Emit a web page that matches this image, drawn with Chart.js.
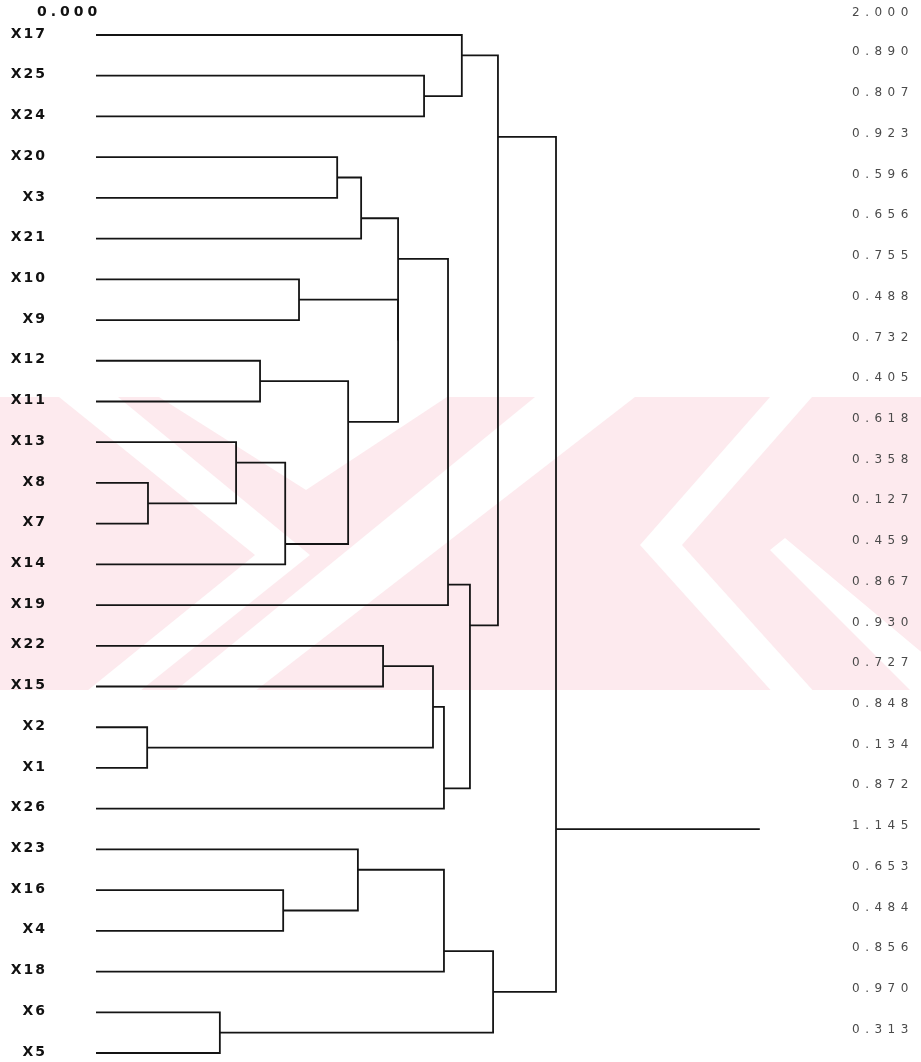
<!DOCTYPE html>
<html>
<head>
<meta charset="utf-8">
<script src="https://cdn.jsdelivr.net/npm/chart.js@4/dist/chart.umd.min.js"></script>
<style>
  html, body { margin: 0; padding: 0; background: #fff; }
  #wrap { position: relative; width: 921px; height: 1062px; }
</style>
</head>
<body>
<div id="wrap"><canvas id="dendro"></canvas></div>
<script>
// Folhas, de cima para baixo
const leafLabels = ['X17', 'X25', 'X24', 'X20', 'X3', 'X21', 'X10', 'X9', 'X12', 'X11', 'X13', 'X8', 'X7',
  'X14', 'X19', 'X22', 'X15', 'X2', 'X1', 'X26', 'X23', 'X16', 'X4', 'X18', 'X6', 'X5'];

// Distancias impressas na coluna da direita (entre folhas vizinhas)
const gapDistances = [0.890, 0.807, 0.923, 0.596, 0.656, 0.755, 0.488, 0.732, 0.405, 0.618, 0.358, 0.127,
  0.459, 0.867, 0.930, 0.727, 0.848, 0.134, 0.872, 1.145, 0.653, 0.484, 0.856, 0.970, 0.313];

// Extremos da escala
const scaleEnds = [0, 2];

// Juncoes: [filho esquerdo, filho direito, altura]; indice >= 26 = no interno
const merges = [
  [11, 12, 0.128], [17, 18, 0.126], [24, 25, 0.305], [10, 26, 0.345], [8, 9, 0.404],
  [21, 22, 0.461], [29, 13, 0.466], [6, 7, 0.500], [3, 4, 0.594], [30, 32, 0.621],
  [34, 5, 0.653], [20, 31, 0.645], [33, 35, 0.744], [36, 38, 0.744], [1, 2, 0.808],
  [0, 40, 0.901], [39, 14, 0.867], [15, 16, 0.707], [43, 27, 0.830], [44, 19, 0.857],
  [42, 45, 0.921], [41, 46, 0.990], [37, 23, 0.857], [48, 28, 0.978], [47, 49, 1.133]
];
const rootTail = 1.635;

// posicao de cada no: altura e linha (y) onde sai o traco horizontal
const nLeaves = leafLabels.length;
const nodeH = [], nodeY = [], nodeLast = [];
for (let i = 0; i < nLeaves; i++) { nodeH[i] = 0; nodeY[i] = i; nodeLast[i] = i; }
merges.forEach(([a, b, h], k) => {
  const id = nLeaves + k;
  nodeH[id] = h;
  nodeY[id] = nodeLast[a] + 0.5;
  nodeLast[id] = nodeLast[b];
});
const rootId = nLeaves + merges.length - 1;

const lineStyle = {
  showLine: true, borderColor: '#141414', borderWidth: 1.8, pointRadius: 0,
  tension: 0, fill: false, borderCapStyle: 'butt', borderJoinStyle: 'miter'
};

const datasets = merges.map(([a, b, h]) => ({
  ...lineStyle,
  data: [
    { x: nodeH[a], y: nodeY[a] },
    { x: h, y: nodeY[a] },
    { x: h, y: nodeY[b] },
    { x: nodeH[b], y: nodeY[b] }
  ]
}));
datasets.push({
  ...lineStyle,
  data: [{ x: nodeH[rootId], y: nodeY[rootId] }, { x: rootTail, y: nodeY[rootId] }]
});

// marca d'agua rosa ao fundo
const watermark = {
  id: 'watermark',
  beforeDraw(chart) {
    const ctx = chart.ctx;
    const poly = pts => {
      ctx.beginPath();
      pts.forEach(([x, y], i) => i ? ctx.lineTo(x, y) : ctx.moveTo(x, y));
      ctx.closePath();
      ctx.fill();
    };
    ctx.save();
    ctx.beginPath();
    ctx.rect(0, 397, 921, 293);
    ctx.clip();
    ctx.fillStyle = '#fdeaee';
    ctx.fillRect(0, 397, 921, 293);
    ctx.fillStyle = '#fff';
    poly([[59, 397], [118, 397], [310, 555], [135, 695], [82, 695], [255, 555]]);
    poly([[159, 397], [447, 397], [306, 490]]);
    poly([[535, 397], [635, 397], [250, 695], [170, 695]]);
    poly([[770, 397], [812, 397], [682, 545], [817, 695], [775, 695], [640, 545]]);
    poly([[770, 550], [785, 538], [925, 655], [925, 705]]);
    ctx.restore();
  }
};

// textos: rotulos das folhas, distancias e extremos da escala
const labels = {
  id: 'labels',
  afterDraw(chart) {
    const { ctx, scales: { y } } = chart;
    ctx.save();
    ctx.textBaseline = 'middle';

    ctx.fillStyle = '#111';
    ctx.font = 'bold 14px "DejaVu Sans"';
    ctx.letterSpacing = '2px';
    ctx.textAlign = 'right';
    leafLabels.forEach((lab, i) => ctx.fillText(lab, 47, y.getPixelForValue(i) - 1));

    ctx.textAlign = 'left';
    ctx.letterSpacing = '4px';
    ctx.fillText(scaleEnds[0].toFixed(3), 37, y.getPixelForValue(-0.5) - 2);

    ctx.fillStyle = '#4a4a4a';
    ctx.font = '12px "DejaVu Sans"';
    ctx.letterSpacing = '5.5px';
    ctx.fillText(scaleEnds[1].toFixed(3), 852, y.getPixelForValue(-0.5) - 2);
    gapDistances.forEach((d, i) => ctx.fillText(d.toFixed(3), 852, y.getPixelForValue(i + 0.5) - 3));
    ctx.restore();
  }
};

new Chart(document.getElementById('dendro'), {
  type: 'scatter',
  data: { datasets },
  options: {
    responsive: true,
    maintainAspectRatio: false,
    animation: false,
    layout: { padding: 0 },
    plugins: { legend: { display: false }, tooltip: { enabled: false } },
    scales: {
      x: { type: 'linear', display: false, min: -0.2365, max: 2.032 },
      y: { type: 'linear', display: false, reverse: true, min: -0.8595, max: 25.221 }
    }
  },
  plugins: [watermark, labels]
});
</script>
</body>
</html>
